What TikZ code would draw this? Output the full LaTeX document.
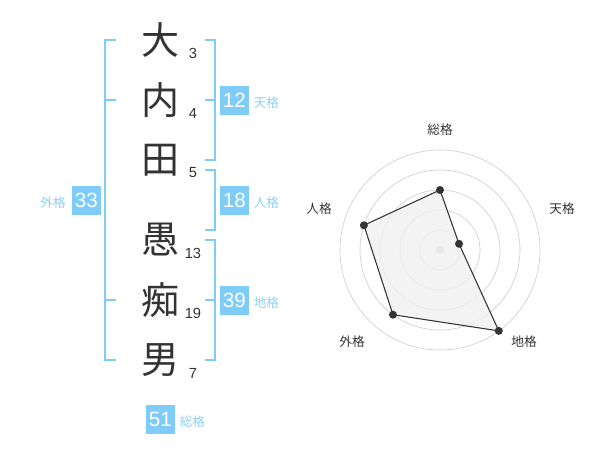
\documentclass[tikz,border=0pt]{standalone}
\usepackage{fontspec}
\usetikzlibrary{calc}
\setmainfont{Liberation Sans}
\newfontfamily\cjk{Noto Sans CJK JP}
\definecolor{sky}{HTML}{80CCF8}
\definecolor{skytext}{HTML}{8CD0F5}
\definecolor{ink}{HTML}{333333}
\definecolor{ring}{HTML}{D0D0D0}
\begin{document}
\begin{tikzpicture}[x=0.75pt,y=-0.75pt,
  kanji/.style={font=\cjk\fontsize{28.5}{28.5}\selectfont,text=ink,inner sep=0pt},
  stroke/.style={font=\fontsize{11}{11}\selectfont,text=ink,inner sep=0pt},
  bracket/.style={draw=sky,line width=1.5pt},
  numbox/.style={fill=sky,text=white,inner sep=0pt,minimum size=21.5pt,font=\fontsize{15.5}{15.5}\selectfont},
  kakulabel/.style={font=\cjk\fontsize{9.5}{9.5}\selectfont,text=skytext,inner sep=0pt},
  axislabel/.style={font=\cjk\fontsize{9.5}{9.5}\selectfont,text=ink,inner sep=0pt},
  ringline/.style={draw=ring,line width=0.5pt},
  dot/.style={circle,fill=ink,inner sep=0pt,minimum size=6pt}]
\useasboundingbox (0,0) rectangle (600,470);
% name characters
\node[kanji] (c1) at (160,40) {大};
\node[kanji] (c2) at (160,100) {内};
\node[kanji] (c3) at (160,160) {田};
\node[kanji] (c4) at (160,240) {愚};
\node[kanji] (c5) at (160,300) {痴};
\node[kanji] (c6) at (160,360) {男};
\node[stroke] (n1) at (193,53) {3};
\node[stroke] (n2) at (193,113) {4};
\node[stroke] (n3) at (193,173) {5};
\node[stroke] (n4) at (193,253) {13};
\node[stroke] (n5) at (193,313) {19};
\node[stroke] (n6) at (193,373) {7};
% brackets
\draw[bracket] (116,40) -- (105,40) -- (105,360) -- (116,360);
\draw[bracket] (105,100) -- (116,100);
\draw[bracket] (105,300) -- (116,300);
\draw[bracket] (205,40) -- (215,40) -- (215,160) -- (205,160);
\draw[bracket] (205,100) -- (215,100);
\draw[bracket] (205,170) -- (215,170) -- (215,230) -- (205,230);
\draw[bracket] (205,240) -- (215,240) -- (215,360) -- (205,360);
\draw[bracket] (205,300) -- (215,300);
% boxes
\node[numbox] (b12) at (234.3,100.3) {12};
\node[numbox] (b18) at (234.3,200.3) {18};
\node[numbox] (b39) at (234.3,300.3) {39};
\node[numbox] (b33) at (86.3,200.3) {33};
\node[numbox] (b51) at (160.3,419.3) {51};
\node[kakulabel,anchor=west] (l12) at (253.5,103) {天格};
\node[kakulabel,anchor=west] (l18) at (253.5,203) {人格};
\node[kakulabel,anchor=west] (l39) at (253.5,303) {地格};
\node[kakulabel,anchor=east] (l33) at (66,203) {外格};
\node[kakulabel,anchor=west] (l51) at (179.5,422) {総格};
% radar chart
\coordinate (o) at (440,250);
\foreach \r in {20,40,60,80,100} \draw[ringline] (o) circle[radius=\r];
\fill[ring] (o) circle[radius=4];
\coordinate (p1) at ($(o)+(-90:60)$);
\coordinate (p2) at ($(o)+(-18:20)$);
\coordinate (p3) at ($(o)+(54:100)$);
\coordinate (p4) at ($(o)+(126:80)$);
\coordinate (p5) at ($(o)+(198:80)$);
\draw[ink,line width=0.8pt,fill=black!6,fill opacity=0.8,draw opacity=1] (p1) -- (p2) -- (p3) -- (p4) -- (p5) -- cycle;
\foreach \p in {p1,p2,p3,p4,p5} \node[dot] at (\p) {};
\node[axislabel] (a1) at (440,130) {総格};
\node[axislabel] (a2) at (562,209) {天格};
\node[axislabel] (a3) at (524,342) {地格};
\node[axislabel] (a4) at (352,342) {外格};
\node[axislabel] (a5) at (319,209) {人格};
\end{tikzpicture}
\end{document}
